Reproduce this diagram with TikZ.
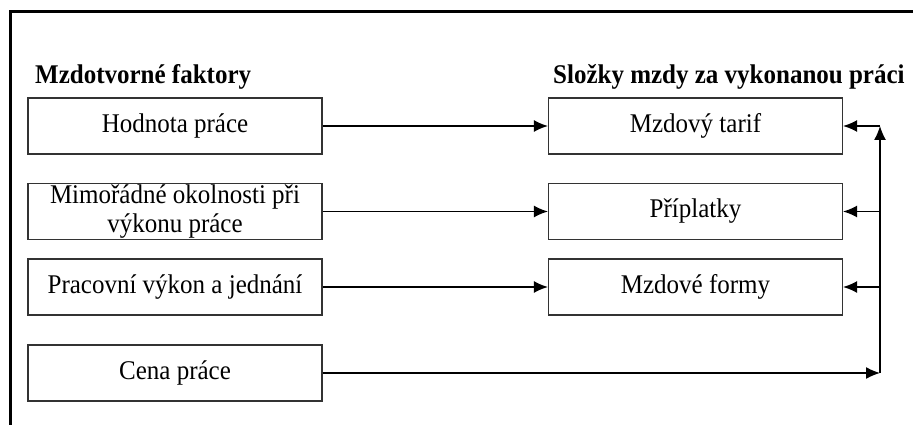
\documentclass[tikz,border=0pt]{standalone}
\usepackage{fontspec}
\usepackage{graphicx}
\setmainfont{Liberation Serif}
\usetikzlibrary{arrows.meta}
% slightly taller lettering
\newcommand\tallt[1]{\scalebox{1}[1.08]{#1}}
\begin{document}
\begin{tikzpicture}[x=1pt,y=-1pt,
  box/.style={draw=black!80, line width=1.3pt, minimum width=294pt, minimum height=56pt,
    inner sep=0pt, align=center, font=\fontsize{25}{29}\selectfont},
  head/.style={anchor=base west, inner sep=0pt, font=\fontsize{25}{29}\selectfont\bfseries},
  conn/.style={line width=1.3pt, -{Latex[length=14pt,width=12pt]}}]
  \useasboundingbox (0,0) rectangle (913,425);
  % outer frame, open to the right and bottom
  \draw[line width=3pt] (10,430) -- (10,12) -- (920,12);
  % headings
  \node[head] (hl) at (35,84) {\tallt{Mzdotvorné faktory}};
  \node[head] (hr) at (553,84) {\tallt{Složky mzdy za vykonanou práci}};
  % factors
  \node[box] (f1) at (175,126) {\tallt{Hodnota práce}};
  \node[box] (f2) at (175,211.5) {\tallt{Mimořádné okolnosti při}\\\tallt{výkonu práce}};
  \node[box] (f3) at (175,287) {\tallt{Pracovní výkon a jednání}};
  \node[box] (f4) at (175,373) {\tallt{Cena práce}};
  % wage components
  \node[box] (c1) at (695.5,126) {\tallt{Mzdový tarif}};
  \node[box] (c2) at (695.5,211.5) {\tallt{Příplatky}};
  \node[box] (c3) at (695.5,287) {\tallt{Mzdové formy}};
  % feedback bus on the right
  \coordinate (bt) at (880,126);
  \coordinate (b2) at (880,211.5);
  \coordinate (b3) at (880,287);
  \coordinate (bb) at (880,373);
  \draw[conn] (f1) -- (c1);
  \draw[conn] (f2) -- (c2);
  \draw[conn] (f3) -- (c3);
  \draw[conn] (f4) -- (bb);
  \draw[conn] (bb) -- (bt);
  \draw[conn] (bt) -- (c1);
  \draw[conn] (b2) -- (c2);
  \draw[conn] (b3) -- (c3);
\end{tikzpicture}
\end{document}
